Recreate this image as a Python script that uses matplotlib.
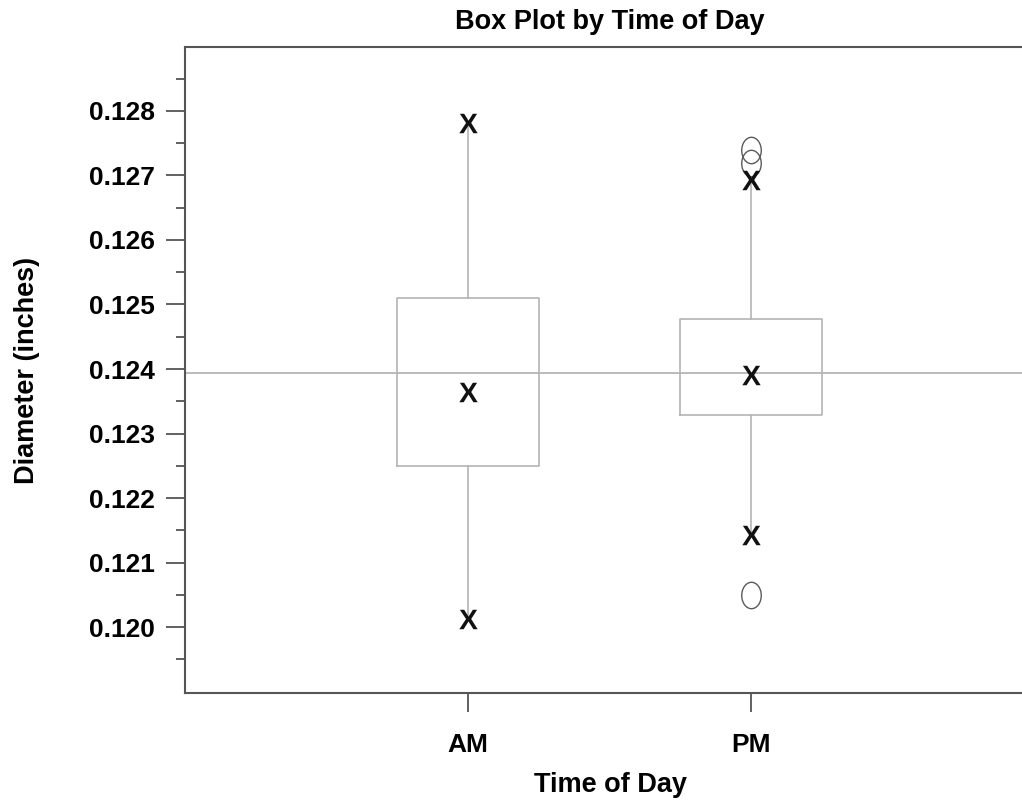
import matplotlib
matplotlib.use('Agg')
import matplotlib.pyplot as plt
from matplotlib.path import Path
from matplotlib.transforms import Affine2D
from matplotlib.ticker import FixedLocator, FormatStrFormatter

plt.rcParams['font.family'] = ['Liberation Sans', 'DejaVu Sans']
plt.rcParams['font.weight'] = 'bold'
plt.rcParams['mathtext.fontset'] = 'custom'
plt.rcParams['mathtext.bf'] = 'Liberation Sans:bold'

# ---- data ----
groups = ['AM', 'PM']
q1 = [0.12249, 0.12328]
q3 = [0.12510, 0.12477]
centre = [0.12364, 0.12390]      # the X inside each box
whis_lo = [0.12012, 0.12143]
whis_hi = [0.12782, 0.12693]
outliers = [[], [0.12050, 0.12719, 0.12739]]
grand_mean = 0.12394
y_major = [0.120, 0.121, 0.122, 0.123, 0.124, 0.125, 0.126, 0.127, 0.128]
y_minor = [0.1195, 0.1205, 0.1215, 0.1225, 0.1235, 0.1245, 0.1255, 0.1265, 0.1275, 0.1285]

# ---- figure ----
fig = plt.figure(figsize=(10.22, 8.02), dpi=100)
ax = fig.add_axes([185 / 1022, 1 - 693 / 802, 849 / 1022, 646 / 802])

box_col = '#b4b4b4'
stats = []
for i, g in enumerate(groups):
    stats.append(dict(label=g, q1=q1[i], q3=q3[i], med=centre[i], mean=centre[i],
                      whislo=whis_lo[i], whishi=whis_hi[i], fliers=outliers[i]))

ellipse = Path.unit_circle().transformed(Affine2D().scale(0.74, 1.0))
pos = list(range(1, len(groups) + 1))

ax.axhline(grand_mean, color='#a8a8a8', lw=1.1, zorder=1)
ax.bxp(stats, positions=pos, widths=0.5, showcaps=False, showmeans=True,
       boxprops=dict(color=box_col, lw=1.2),
       whiskerprops=dict(color=box_col, lw=1.2),
       medianprops=dict(lw=0),
       meanprops=dict(marker=r'$\mathbf{X}$', markersize=14, markerfacecolor='#111111',
                      markeredgecolor='#111111', markeredgewidth=0),
       flierprops=dict(marker=ellipse, markersize=19, markerfacecolor='none',
                       markeredgecolor='#5a5a5a', markeredgewidth=1.0))

# whisker-end markers
for y in (whis_lo, whis_hi):
    ax.plot(pos, y, ls='none', marker=r'$\mathbf{X}$', markersize=14,
            color='#111111', markeredgewidth=0, zorder=5)

ax.set_xlim(0, 3)
ax.set_ylim(0.11898, 0.12899)
ax.set_xticks(pos)
ax.set_xticklabels(groups)
ax.yaxis.set_major_locator(FixedLocator(y_major))
ax.yaxis.set_minor_locator(FixedLocator(y_minor))
ax.yaxis.set_major_formatter(FormatStrFormatter('%.3f'))

spine_col = '#555555'
for s in ['left', 'top', 'bottom']:
    ax.spines[s].set_color(spine_col)
    ax.spines[s].set_linewidth(1.5)
ax.spines['right'].set_visible(False)

ax.tick_params(axis='y', which='major', length=13.7, width=1.3, color=spine_col,
               pad=8, labelsize=19)
ax.tick_params(axis='y', which='minor', length=6.5, width=1.3, color=spine_col)
ax.tick_params(axis='x', which='major', length=13.7, width=1.3, color=spine_col,
               pad=15, labelsize=19)
for lbl in ax.get_xticklabels() + ax.get_yticklabels():
    lbl.set_fontweight('bold')

fig.text(610 / 1022, 1 - 22 / 802, 'Box Plot by Time of Day', ha='center', va='center',
         fontsize=19.5, fontweight='bold')
fig.text(610 / 1022, 1 - 785 / 802, 'Time of Day', ha='center', va='center',
         fontsize=19.5, fontweight='bold')
fig.text(27 / 1022, 1 - 370 / 802, 'Diameter (inches)', ha='center', va='center',
         rotation=90, fontsize=19.5, fontweight='bold')

fig.savefig('out.png', dpi=100, facecolor='white')
